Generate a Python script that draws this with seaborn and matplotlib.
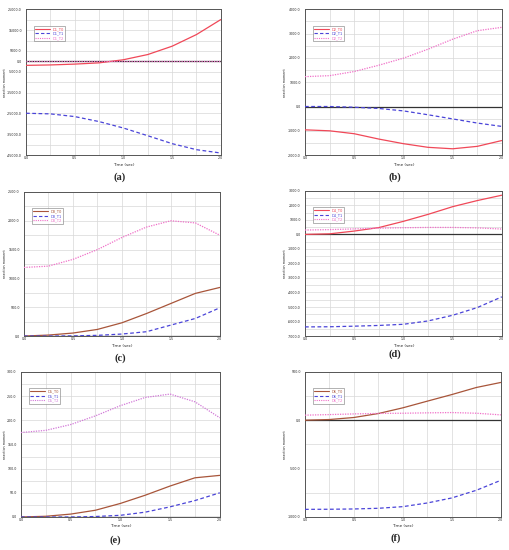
import numpy as np
import pandas as pd
import matplotlib
matplotlib.use("Agg")
import matplotlib.pyplot as plt
from matplotlib.ticker import FormatStrFormatter, MultipleLocator, FixedLocator
import seaborn as sns

# time samples (sec)
time = [0.0, 0.25, 0.5, 0.75, 1.0, 1.25, 1.5, 1.75, 2.0]

# panel (a)
a_t0 = [-1900, -1700, -1300, -700, 800, 3300, 7300, 12900, 20100]
a_t1 = [-24900, -25200, -26500, -28900, -32000, -35700, -39500, -42400, -44000]
a_t2 = [0, 0, 0, 0, 0, 0, 0, 0, 0]
# panel (b)
b_t0 = [-960, -1000, -1120, -1340, -1530, -1680, -1740, -1640, -1400]
b_t1 = [0, 0, -30, -80, -180, -340, -510, -680, -820]
b_t2 = [1230, 1270, 1440, 1700, 1990, 2360, 2770, 3120, 3260]
# panel (c)
c_t0 = [0, 17, 52, 115, 230, 390, 565, 740, 843]
c_t1 = [0, 0, 3, 12, 35, 75, 190, 305, 490]
c_t2 = [1190, 1213, 1330, 1500, 1710, 1890, 2000, 1963, 1750]
# panel (d)
d_t0 = [0, 40, 230, 470, 900, 1380, 1910, 2330, 2700]
d_t1 = [-6370, -6360, -6320, -6270, -6190, -5960, -5570, -5040, -4300]
d_t2 = [300, 330, 380, 430, 460, 480, 480, 450, 370]
# panel (e)
e_t0 = [0, 1.5, 6, 14, 28, 45, 64, 81, 86]
e_t1 = [0, 0, 0, 1, 3.5, 10, 21, 34, 50]
e_t2 = [174.5, 179, 191, 209, 230, 247, 254, 238, 205]
# panel (f)
f_t0 = [0, 7, 28, 69, 128, 197, 265, 338, 390]
f_t1 = [-921, -920, -917, -910, -893, -855, -803, -724, -621]
f_t2 = [52, 58, 65, 70, 72, 76, 79, 72, 55]

panels = [
    ("(a)", "D1", [a_t0, a_t1, a_t2], (-45000, 25000),
     [25000, 15000, 5000, 0, -5000, -15000, -25000, -35000, -45000], 5000, "#f04858"),
    ("(b)", "D2", [b_t0, b_t1, b_t2], (-2000, 4000), list(range(-2000, 4001, 1000)), 500, "#f04858"),
    ("(c)", "D3", [c_t0, c_t1, c_t2], (0, 2500), list(range(0, 2501, 500)), 250, "#a8553a"),
    ("(d)", "D4", [d_t0, d_t1, d_t2], (-7000, 3000), list(range(-7000, 3001, 1000)), 500, "#f04858"),
    ("(e)", "D5", [e_t0, e_t1, e_t2], (0, 300), list(range(0, 301, 50)), 25, "#a8553a"),
    ("(f)", "D6", [f_t0, f_t1, f_t2], (-1000, 500), [-1000, -500, 0, 500], 250, "#a8553a"),
]

# axes rectangles in figure fraction
rects = [
    [0.051, 0.718, 0.382, 0.265],
    [0.598, 0.718, 0.386, 0.265],
    [0.047, 0.389, 0.384, 0.262],
    [0.598, 0.389, 0.386, 0.264],
    [0.041, 0.060, 0.390, 0.264],
    [0.598, 0.060, 0.384, 0.264],
]
label_pos = [(0.235, 0.678), (0.775, 0.678), (0.235, 0.349), (0.775, 0.356), (0.226, 0.018), (0.775, 0.022)]
ylabel_x = [7, 287, 7, 287, 7, 287]  # pixels

sns.set_style("white")
plt.rcParams['font.family'] = ['DejaVu Sans']

fig = plt.figure(figsize=(5.1, 5.5), dpi=100)

for i, (tag, name, series, ylim, yticks, ygrid, c0) in enumerate(panels):
    ax = fig.add_axes(rects[i])
    colors = [c0, "#4a44d8", "#f070c8" if i != 4 else "#d278d8"]
    styles = ["-", (0, (3, 2)), (0, (1, 1))]
    names = [name + "_T0", name + "_T1", name + "_T2"]
    df = pd.DataFrame({"time": time * 3,
                       "value": series[0] + series[1] + series[2],
                       "series": sum([[n] * len(time) for n in names], [])})
    ax.axhline(0, color="#333333", lw=0.9, zorder=1)
    for n, col, ls in zip(names, colors, styles):
        sns.lineplot(data=df[df.series == n], x="time", y="value", ax=ax,
                     color=col, lw=0.9, linestyle=ls, label=n, zorder=3)
    ax.set_xlim(0, 2.0)
    ax.set_ylim(*ylim)
    ax.xaxis.set_major_locator(MultipleLocator(0.5))
    ax.xaxis.set_minor_locator(MultipleLocator(0.25))
    ax.yaxis.set_major_locator(FixedLocator(yticks))
    ax.yaxis.set_minor_locator(MultipleLocator(ygrid))
    ax.xaxis.set_major_formatter(FormatStrFormatter("%.1f"))
    ax.yaxis.set_major_formatter(FormatStrFormatter("%.1f"))
    ax.grid(which="both", color="#d8d8d8", lw=0.5)
    ax.tick_params(which="major", labelsize=2.3, length=2, width=0.5, pad=1.0)
    ax.tick_params(which="minor", length=1.2, width=0.4)
    ax.tick_params(axis="x", which="both", length=0)
    for s in ax.spines.values():
        s.set_color("#555555")
        s.set_linewidth(0.7)
    ax.set_xlabel("Time (sec)", fontsize=3, labelpad=1.5)
    ax.set_ylabel("reaction moment", fontsize=2.4)
    ax.yaxis.set_label_coords((ylabel_x[i] / 510 - rects[i][0]) / rects[i][2], 0.5)
    leg = ax.legend(loc="upper left", bbox_to_anchor=(0.03, 0.9), fontsize=2.6,
                    frameon=True, handlelength=4, borderpad=0.4, labelspacing=0.1,
                    fancybox=True, edgecolor="#777777")
    leg.get_frame().set_linewidth(0.5)
    for txt, col in zip(leg.get_texts(), colors):
        txt.set_color(col)
    for h in leg.get_lines():
        h.set_linewidth(0.8)
    fig.text(label_pos[i][0], label_pos[i][1], tag, ha="center", va="center",
             fontsize=7.5, fontweight="bold", family=["Liberation Serif", "DejaVu Serif"])

fig.savefig("out.png", dpi=100)
